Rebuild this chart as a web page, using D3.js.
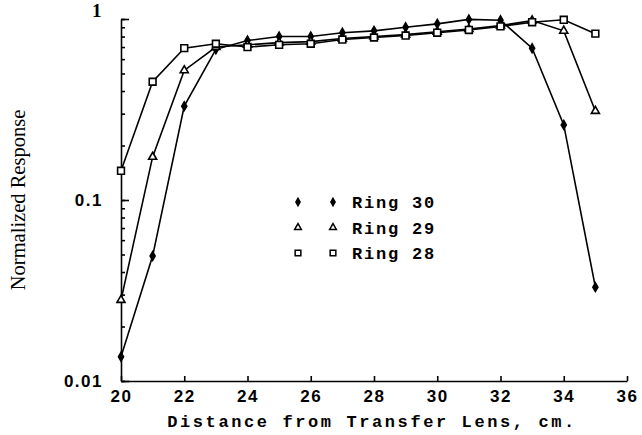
<!DOCTYPE html>
<html>
<head>
<meta charset="utf-8">
<script src="https://cdn.jsdelivr.net/npm/d3@7"></script>
<style>
  body { margin: 0; background: #fff; }
</style>
</head>
<body>
<div id="chart"></div>
<script>
// values
const distance = [20, 21, 22, 23, 24, 25, 26, 27, 28, 29, 30, 31, 32, 33, 34, 35]
const ring30 = [0.0136, 0.049, 0.33, 0.68, 0.76, 0.80, 0.80, 0.84, 0.86, 0.90, 0.94, 0.995, 0.985, 0.69, 0.26, 0.033]
const ring29 = [0.028, 0.173, 0.52, 0.70, 0.72, 0.74, 0.75, 0.78, 0.80, 0.82, 0.85, 0.88, 0.92, 0.98, 0.86, 0.31]
const ring28 = [0.145, 0.45, 0.69, 0.73, 0.70, 0.72, 0.73, 0.77, 0.79, 0.81, 0.84, 0.87, 0.91, 0.96, 0.99, 0.83]
const seriesNames = ['Ring 30', 'Ring 29', 'Ring 28']
const xTicks = [20, 22, 24, 26, 28, 30, 32, 34, 36]
const yMajor = [0.01, 0.1, 1]
const yLabels = ['0.01', '0.1', '1']

const width = 642
const height = 435
const margin = ({ top: 19, right: 15, bottom: 54, left: 121 })

const svg = d3.select('#chart')
    .append('svg')
    .attr('width', width)
    .attr('height', height)
    .attr('font-family', '"Courier New", "Liberation Mono", monospace')

const x = d3.scaleLinear()
    .domain([20, 36])
    .range([margin.left, width - margin.right])
const y = d3.scaleLog()
    .domain([0.01, 1])
    .range([height - margin.bottom, margin.top])

// y axis: minor ticks then major ticks with labels
svg.append('g')
    .attr('transform', `translate(${margin.left},0)`)
    .call(d3.axisLeft(y).tickValues(y.ticks()).tickSize(-4).tickSizeOuter(0).tickFormat(''))
    .call(g => g.selectAll('line, path').attr('stroke', '#000').attr('stroke-width', 1.6))
svg.append('g')
    .attr('transform', `translate(${margin.left},0)`)
    .call(d3.axisLeft(y).tickValues(yMajor).tickSize(-8).tickSizeOuter(0).tickPadding(18)
        .tickFormat((d, i) => yLabels[i]))
    .call(g => g.select('.domain').remove())
    .call(g => g.selectAll('line').attr('stroke', '#000').attr('stroke-width', 1.6))
    .call(g => g.selectAll('text')
        .attr('fill', '#000')
        .attr('font-size', 17)
        .attr('font-weight', 'bold')
        .style('letter-spacing', '1.5px'))
    .call(g => g.selectAll('text').filter(d => d === 1)
        .attr('font-family', '"Liberation Serif", serif')
        .attr('font-size', 19)
        .attr('dy', '-0.15em'))

// x axis
svg.append('g')
    .attr('transform', `translate(0,${height - margin.bottom})`)
    .call(d3.axisBottom(x).tickValues(xTicks).tickSize(-5).tickSizeOuter(0).tickPadding(9))
    .call(g => g.selectAll('line, path').attr('stroke', '#000').attr('stroke-width', 1.6))
    .call(g => g.selectAll('text')
        .attr('fill', '#000')
        .attr('font-size', 17)
        .attr('font-weight', 'bold')
        .style('letter-spacing', '1.5px'))

// axis titles
svg.append('text')
    .attr('x', (margin.left + width - margin.right) / 2 - 2)
    .attr('y', 427)
    .attr('text-anchor', 'middle')
    .attr('font-size', 17)
    .attr('font-weight', 'bold')
    .style('letter-spacing', '2.6px')
    .text('Distance from Transfer Lens, cm.')

svg.append('text')
    .attr('transform', `translate(25,200) rotate(-90)`)
    .attr('text-anchor', 'middle')
    .attr('font-family', '"Liberation Serif", serif')
    .attr('font-size', 20.5)
    .text('Normalized Response')

// series
const series = [
    { name: seriesNames[0], values: ring30, symbol: d3.symbolDiamond, size: 22, fill: '#000' },
    { name: seriesNames[1], values: ring29, symbol: d3.symbolTriangle, size: 28, fill: '#fff' },
    { name: seriesNames[2], values: ring28, symbol: d3.symbolSquare, size: 46, fill: '#fff' }
]

const line = d3.line()
    .x((d, i) => x(distance[i]))
    .y(d => y(d))

series.forEach(s => {
    svg.append('path')
        .datum(s.values)
        .attr('fill', 'none')
        .attr('stroke', '#000')
        .attr('stroke-width', 1.6)
        .attr('d', line)
})

series.forEach(s => {
    svg.append('g')
        .selectAll('path')
        .data(s.values)
        .join('path')
        .attr('transform', (d, i) => `translate(${x(distance[i])},${y(d)})`)
        .attr('d', d3.symbol().type(s.symbol).size(s.size))
        .attr('fill', s.fill)
        .attr('stroke', '#000')
        .attr('stroke-width', 1.6)
})

// legend
const legend = svg.append('g')
    .selectAll('g')
    .data(series)
    .join('g')
    .attr('transform', (d, i) => `translate(0,${202 + i * 25.5})`)
legend.selectAll('path')
    .data(d => [d, d])
    .join('path')
    .attr('transform', (d, i) => `translate(${i === 0 ? 298 : 333},0)`)
    .attr('d', d => d3.symbol().type(d.symbol).size(d.size * 0.7)())
    .attr('fill', d => d.fill)
    .attr('stroke', '#000')
    .attr('stroke-width', 1.5)
legend.append('text')
    .attr('x', 352)
    .attr('dy', '0.36em')
    .attr('font-size', 17)
    .attr('font-weight', 'bold')
    .style('letter-spacing', '1.8px')
    .text(d => d.name)
</script>
</body>
</html>
